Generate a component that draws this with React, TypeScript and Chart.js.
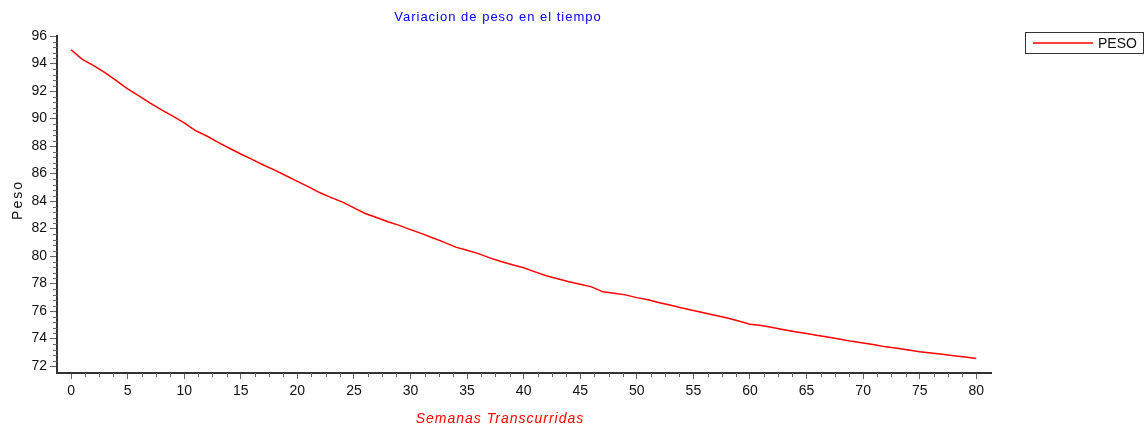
import React, { useEffect, useRef } from "react";
import { Chart, registerables } from "chart.js";

Chart.register(...registerables);

const chartTitle = "Variacion de peso en el tiempo";
const xAxisTitle = "Semanas Transcurridas";
const yAxisTitle = "Peso";
const seriesName = "PESO";

const weeks = [
  0, 1, 2, 3, 4, 5, 6, 7, 8, 9, 10, 11, 12, 13, 14, 15, 16, 17, 18, 19, 20,
  21, 22, 23, 24, 25, 26, 27, 28, 29, 30, 31, 32, 33, 34, 35, 36, 37, 38, 39, 40,
  41, 42, 43, 44, 45, 46, 47, 48, 49, 50, 51, 52, 53, 54, 55, 56, 57, 58, 59, 60,
  61, 62, 63, 64, 65, 66, 67, 68, 69, 70, 71, 72, 73, 74, 75, 76, 77, 78, 79, 80,
];

const peso = [
  95.0, 94.3, 93.84, 93.33, 92.76, 92.15, 91.65, 91.12, 90.63, 90.17, 89.68,
  89.12, 88.73, 88.27, 87.84, 87.42, 87.03, 86.62, 86.25, 85.84, 85.43,
  85.03, 84.6, 84.25, 83.92, 83.5, 83.1, 82.8, 82.5, 82.23, 81.92,
  81.63, 81.32, 81.0, 80.65, 80.42, 80.18, 79.87, 79.6, 79.37, 79.15,
  78.85, 78.57, 78.35, 78.13, 77.95, 77.76, 77.4, 77.3, 77.18, 76.98,
  76.82, 76.6, 76.43, 76.23, 76.05, 75.86, 75.68, 75.5, 75.28, 75.05,
  74.95, 74.8, 74.65, 74.5, 74.37, 74.22, 74.1, 73.95, 73.8, 73.68,
  73.55, 73.4, 73.3, 73.17, 73.05, 72.95, 72.86, 72.76, 72.66, 72.56,
];

const yMajorTicks = [72, 74, 76, 78, 80, 82, 84, 86, 88, 90, 92, 94, 96];
const xMajorTicks = [0, 5, 10, 15, 20, 25, 30, 35, 40, 45, 50, 55, 60, 65, 70, 75, 80];

const FONT = "'Liberation Sans', Arial, sans-serif";

const decorPlugin = {
  id: "decor",
  afterDraw(chart: any) {
    const ctx = chart.ctx as CanvasRenderingContext2D;
    const xs = chart.scales.x;
    const ys = chart.scales.y;
    const area = chart.chartArea;
    ctx.save();
    // minor ticks
    ctx.strokeStyle = "#666";
    ctx.lineWidth = 1;
    ctx.beginPath();
    for (let i = 0; i < yMajorTicks.length - 1; i++) {
      const a = yMajorTicks[i];
      const b = yMajorTicks[i + 1];
      for (let k = 1; k < 5; k++) {
        const py = Math.round(ys.getPixelForValue(a + ((b - a) * k) / 5)) + 0.5;
        ctx.moveTo(area.left - 4, py);
        ctx.lineTo(area.left, py);
      }
    }
    for (let i = 0; i < xMajorTicks.length - 1; i++) {
      const a = xMajorTicks[i];
      const b = xMajorTicks[i + 1];
      for (let k = 1; k < 4; k++) {
        const px = Math.round(xs.getPixelForValue(a + ((b - a) * k) / 4)) + 0.5;
        ctx.moveTo(px, area.bottom);
        ctx.lineTo(px, area.bottom + 4);
      }
    }
    ctx.stroke();

    // title
    (ctx as any).letterSpacing = "1px";
    ctx.font = `13px ${FONT}`;
    ctx.fillStyle = "#0000ff";
    ctx.textAlign = "center";
    ctx.textBaseline = "alphabetic";
    ctx.fillText(chartTitle, 498, 21);

    // x axis title
    ctx.font = `italic 14px ${FONT}`;
    ctx.fillStyle = "#ff0000";
    ctx.fillText(xAxisTitle, 500, 423);

    // y axis title
    (ctx as any).letterSpacing = "2px";
    ctx.font = `14px ${FONT}`;
    ctx.fillStyle = "#111";
    ctx.save();
    ctx.translate(22, 200);
    ctx.rotate(-Math.PI / 2);
    ctx.textAlign = "center";
    ctx.fillText(yAxisTitle, 0, 0);
    ctx.restore();

    // legend
    (ctx as any).letterSpacing = "0px";
    const bx = 1025.5, by = 32.5, bw = 118, bh = 21;
    ctx.strokeStyle = "#333";
    ctx.lineWidth = 1;
    ctx.strokeRect(bx, by, bw, bh);
    ctx.strokeStyle = "#ff0000";
    ctx.lineWidth = 1.5;
    ctx.beginPath();
    ctx.moveTo(1033, 43);
    ctx.lineTo(1093, 43);
    ctx.stroke();
    ctx.font = `14px ${FONT}`;
    ctx.fillStyle = "#111";
    ctx.textAlign = "left";
    ctx.textBaseline = "middle";
    ctx.fillText(seriesName, 1098, 44);
    ctx.restore();
  },
};

export default function App() {
  const canvasRef = useRef<HTMLCanvasElement | null>(null);

  useEffect(() => {
    const canvas = canvasRef.current;
    if (!canvas) return;
    const chart = new Chart(canvas, {
      type: "line",
      data: {
        datasets: [
          {
            label: seriesName,
            data: weeks.map((w, i) => ({ x: w, y: peso[i] })),
            borderColor: "#ff0000",
            borderWidth: 1.5,
            pointRadius: 0,
            tension: 0,
            fill: false,
          },
        ],
      },
      options: {
        animation: false,
        responsive: false,
        maintainAspectRatio: false,
        layout: { padding: { top: 36, right: 156, left: 0, bottom: 0 } },
        plugins: {
          legend: { display: false },
          title: { display: false },
          tooltip: { enabled: false },
        },
        scales: {
          x: {
            type: "linear",
            min: -1.24,
            max: 81.3,
            afterFit: (s: any) => {
              s.height = 54;
            },
            border: { display: true, color: "#333", width: 2 },
            grid: {
              drawOnChartArea: false,
              drawTicks: true,
              tickLength: 6,
              tickColor: "#666",
            },
            ticks: {
              stepSize: 5,
              includeBounds: false,
              padding: 4,
              color: "#111",
              font: { family: FONT, size: 14 },
              maxRotation: 0,
              autoSkip: false,
            },
          },
          y: {
            type: "linear",
            min: 71.5,
            max: 96,
            afterFit: (s: any) => {
              s.width = 57;
            },
            border: { display: true, color: "#333", width: 2 },
            grid: {
              drawOnChartArea: false,
              drawTicks: true,
              tickLength: 7,
              tickColor: "#666",
            },
            ticks: {
              stepSize: 2,
              includeBounds: false,
              padding: 3,
              color: "#111",
              font: { family: FONT, size: 14 },
              autoSkip: false,
            },
          },
        },
      },
      plugins: [decorPlugin],
    });
    return () => chart.destroy();
  }, []);

  return (
    <div style={{ position: "absolute", left: 0, top: 0, width: 1147, height: 427, background: "#fff" }}>
      <canvas ref={canvasRef} width={1147} height={427} style={{ display: "block" }} />
    </div>
  );
}
